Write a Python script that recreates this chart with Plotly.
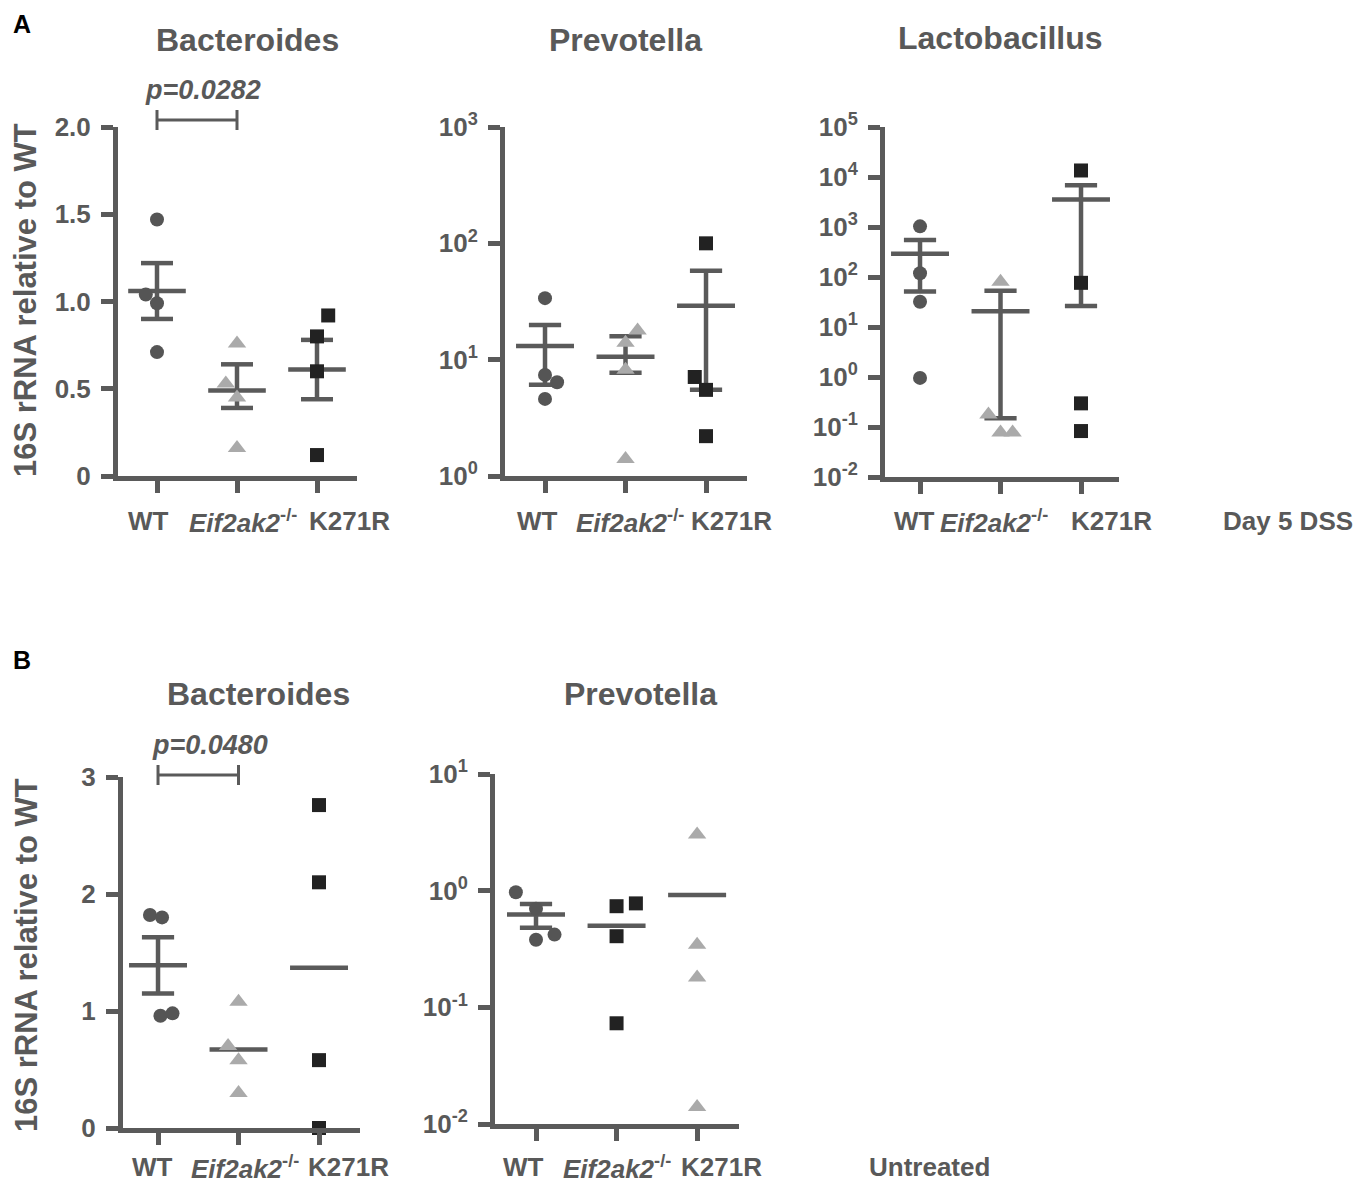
import plotly.graph_objects as go

# page body has an 8px margin: the figure is sized to the visible window
OFF = 8
W, H = 1363 - OFF, 1184 - OFF
FONT = "Liberation Sans, Arial, sans-serif"
AX = "#5a5a5a"
TXT = "#595959"

# ---------------- data ----------------
groups = ["WT", "Eif2ak2-/-", "K271R"]
group_labels = ["<b>WT</b>", "<b><i>Eif2ak2</i><sup>-/-</sup></b>", "<b>K271R</b>"]

# Panel A (Day 5 DSS) - Bacteroides, linear
a_bact_wt = [1.47, 1.04, 0.99, 0.71]
a_bact_eif = [0.76, 0.53, 0.45, 0.16]
a_bact_k271r = [0.92, 0.80, 0.60, 0.12]
a_bact_mean = [1.06, 0.49, 0.61]
a_bact_sem_low = [0.90, 0.39, 0.44]
a_bact_sem_high = [1.22, 0.64, 0.78]

# Panel A - Prevotella, log
a_prev_wt = [33.8, 7.4, 6.4, 4.6]
a_prev_eif = [17.8, 14.0, 8.2, 1.4]
a_prev_k271r = [100, 7.1, 5.5, 2.2]
a_prev_mean = [13.1, 10.6, 29.0]
a_prev_sem_low = [6.1, 7.7, 5.5]
a_prev_sem_high = [19.9, 15.9, 58.0]

# Panel A - Lactobacillus, log
a_lact_wt = [1030, 119, 32, 0.96]
a_lact_eif = [80, 0.177, 0.078, 0.078]
a_lact_k271r = [13500, 76.5, 0.297, 0.083]
a_lact_mean = [292, 20.6, 3530]
a_lact_sem_low = [51.5, 0.15, 26.2]
a_lact_sem_high = [550, 53, 6850]

# Panel B (Untreated) - Bacteroides, linear
b_bact_wt = [1.82, 1.80, 0.96, 0.98]
b_bact_eif = [1.08, 0.70, 0.58, 0.30]
b_bact_k271r = [2.76, 2.10, 0.58, 0.0]
b_bact_mean = [1.39, 0.67, 1.37]
b_bact_sem_low = [1.15, None, None]
b_bact_sem_high = [1.63, None, None]

# Panel B - Prevotella, log
b_prev_wt = [0.97, 0.70, 0.38, 0.42]
b_prev_eif = [0.736, 0.778, 0.407, 0.073]
b_prev_k271r = [3.03, 0.344, 0.18, 0.014]
b_prev_mean = [0.625, 0.50, 0.92]
b_prev_sem_low = [0.482, None, None]
b_prev_sem_high = [0.767, None, None]

# horizontal scatter of overlapping points (category units)
a_bact_dx = [[0, -0.14, 0, 0], [0, -0.14, 0, 0], [0.14, 0, 0, 0]]
a_prev_dx = [[0, 0, 0.15, 0], [0.15, 0, 0, 0], [0, -0.14, 0, 0]]
a_lact_dx = [[0, 0, 0, 0], [0, -0.15, 0, 0.15], [0, 0, 0, 0]]
b_bact_dx = [[-0.10, 0.05, 0.03, 0.18], [0, -0.13, 0, 0], [0, 0, 0, 0]]
b_prev_dx = [[-0.25, 0, 0, 0.23], [0, 0.24, 0, 0], [0, 0, 0, 0]]

lin_a_ticks = [0, 0.5, 1.0, 1.5, 2.0]
lin_a_text = ["0", "0.5", "1.0", "1.5", "2.0"]
lin_b_ticks = [0, 1, 2, 3]
lin_b_text = ["0", "1", "2", "3"]

# ---------------- styles ----------------
m_std = [("circle", "#555555", 14), ("triangle-up", "#aaaaaa", 16), ("square", "#222222", 14)]
m_bprev = [("circle", "#555555", 14), ("square", "#222222", 14), ("triangle-up", "#aaaaaa", 16)]


def logticks(lo, hi):
    vals = [10 ** e for e in range(lo, hi + 1)]
    txt = ["<b>10<sup>%d</sup></b>" % e for e in range(lo, hi + 1)]
    return vals, txt


panels = [
    dict(title="Bacteroides", tx=248, ty=40,
         data=[a_bact_wt, a_bact_eif, a_bact_k271r], dx=a_bact_dx,
         mean=a_bact_mean, lo=a_bact_sem_low, hi=a_bact_sem_high,
         xpx=(118, 357), ypx=(127, 476), xr=[-0.4875, 2.5], type="linear", yr=[0, 2],
         tv=lin_a_ticks, tt=["<b>%s</b>" % t for t in lin_a_text], mk=m_std,
         lab_y=521, lab_dx=[-9, 6, 32]),
    dict(title="Prevotella", tx=625, ty=40,
         data=[a_prev_wt, a_prev_eif, a_prev_k271r], dx=a_prev_dx,
         mean=a_prev_mean, lo=a_prev_sem_low, hi=a_prev_sem_high,
         xpx=(505, 747), ypx=(127, 476), xr=[-0.497, 2.509], type="log", yr=[0, 3],
         tick=(0, 3), mk=m_std, lab_y=521, lab_dx=[-8, 4, 25]),
    dict(title="Lactobacillus", tx=1000, ty=38,
         data=[a_lact_wt, a_lact_eif, a_lact_k271r], dx=a_lact_dx,
         mean=a_lact_mean, lo=a_lact_sem_low, hi=a_lact_sem_high,
         xpx=(885, 1119), ypx=(127, 477), xr=[-0.435, 2.472], type="log", yr=[-2, 5],
         tick=(-2, 5), mk=m_std, lab_y=521, lab_dx=[-6, -7, 30]),
    dict(title="Bacteroides", tx=259, ty=694,
         data=[b_bact_wt, b_bact_eif, b_bact_k271r], dx=b_bact_dx,
         mean=b_bact_mean, lo=b_bact_sem_low, hi=b_bact_sem_high,
         xpx=(123, 360), ypx=(777, 1128), xr=[-0.435, 2.509], type="linear", yr=[0, 3],
         tv=lin_b_ticks, tt=["<b>%s</b>" % t for t in lin_b_text], mk=m_std,
         lab_y=1167, lab_dx=[-6, 6, 29]),
    dict(title="Prevotella", tx=640, ty=694,
         data=[b_prev_wt, b_prev_eif, b_prev_k271r], dx=b_prev_dx,
         mean=b_prev_mean, lo=b_prev_sem_low, hi=b_prev_sem_high,
         xpx=(495, 739), ypx=(774, 1124), xr=[-0.509, 2.52], type="log", yr=[-2, 1],
         tick=(-2, 1), mk=m_bprev, lab_y=1167, lab_dx=[-13, 0, 24]),
]

MEAN_HW = 0.36
CAP_HW = 0.20
LW = 4.5


def px_x(p):
    return (p - OFF) / W


def px_y(p):
    return 1 - (p - OFF) / H


fig = go.Figure()
annotations = []
shapes = []

for k, p in enumerate(panels, start=1):
    sfx = "" if k == 1 else str(k)
    xa, ya = "x" + sfx, "y" + sfx

    # mean lines + SEM bars
    xs, ys = [], []
    for i, m in enumerate(p["mean"]):
        xs += [i - MEAN_HW, i + MEAN_HW, None]
        ys += [m, m, None]
        lo, hi = p["lo"][i], p["hi"][i]
        if lo is not None and hi is not None:
            xs += [i, i, None, i - CAP_HW, i + CAP_HW, None, i - CAP_HW, i + CAP_HW, None]
            ys += [lo, hi, None, lo, lo, None, hi, hi, None]
    fig.add_trace(go.Scatter(x=xs, y=ys, mode="lines", xaxis=xa, yaxis=ya,
                             line=dict(color=AX, width=LW), showlegend=False,
                             hoverinfo="skip"))

    # points
    for i, vals in enumerate(p["data"]):
        sym, col, sz = p["mk"][i]
        fig.add_trace(go.Scatter(
            x=[i + d for d in p["dx"][i]], y=vals, mode="markers",
            xaxis=xa, yaxis=ya, cliponaxis=False, showlegend=False,
            name=groups[i],
            marker=dict(symbol=sym, color=col, size=sz, line=dict(width=0))))

    if p["type"] == "log":
        tv, tt = logticks(*p["tick"])
    else:
        tv, tt = p["tv"], p["tt"]

    fig.update_layout(**{
        "xaxis" + sfx: dict(
            domain=[px_x(p["xpx"][0]), px_x(p["xpx"][1])], range=p["xr"],
            anchor=ya, tickvals=[0, 1, 2], showticklabels=False,
            ticks="outside", ticklen=12, tickwidth=4.5, tickcolor=AX,
            showline=True, linewidth=5, linecolor=AX, showgrid=False,
            zeroline=False, fixedrange=True, automargin=False),
        "yaxis" + sfx: dict(
            domain=[px_y(p["ypx"][1]), px_y(p["ypx"][0])], range=p["yr"],
            type=p["type"], anchor=xa, tickvals=tv, ticktext=tt,
            ticks="outside", ticklen=12, tickwidth=4.5, tickcolor=AX,
            tickfont=dict(family=FONT, size=26, color=TXT),
            ticklabelstandoff=5,
            showline=True, linewidth=5, linecolor=AX, showgrid=False,
            zeroline=False, fixedrange=True, automargin=False),
    })

    # title
    annotations.append(dict(text="<b>%s</b>" % p["title"], x=px_x(p["tx"]), y=px_y(p["ty"]),
                            xref="paper", yref="paper", xanchor="center", yanchor="middle",
                            showarrow=False, font=dict(family=FONT, size=32, color=TXT)))
    # category labels
    for i, lab in enumerate(group_labels):
        annotations.append(dict(text=lab, x=i, xref=xa, xshift=p["lab_dx"][i],
                                y=px_y(p["lab_y"]), yref="paper",
                                xanchor="center", yanchor="middle", showarrow=False,
                                font=dict(family=FONT, size=26, color=TXT)))

# significance brackets (panel A and B Bacteroides)
sig = [("x", "p=0.0282", 120, 90, 6), ("x4", "p=0.0480", 775, 745, 12)]
for xa, txt, by, ty, tshift in sig:
    shapes.append(dict(type="line", xref=xa, yref="paper", x0=0, x1=1,
                       y0=px_y(by), y1=px_y(by), line=dict(color=AX, width=3)))
    for xv in (0, 1):
        shapes.append(dict(type="line", xref=xa, yref="paper", x0=xv, x1=xv,
                           y0=px_y(by - 10), y1=px_y(by + 10), line=dict(color=AX, width=3)))
    annotations.append(dict(text="<b><i>%s</i></b>" % txt, x=0.5, xref=xa, xshift=tshift,
                            y=px_y(ty), yref="paper", xanchor="center", yanchor="middle",
                            showarrow=False, font=dict(family=FONT, size=27, color=TXT)))

# y-axis titles
for cy in (300, 955):
    annotations.append(dict(text="<b>16S rRNA relative to WT</b>", x=px_x(26), y=px_y(cy),
                            xref="paper", yref="paper", xanchor="center", yanchor="middle",
                            textangle=-90, showarrow=False,
                            font=dict(family=FONT, size=31, color=TXT)))

# panel letters (near the page edge)
annotations.append(dict(text="<b>A</b>", x=px_x(11), y=1.0,
                        xref="paper", yref="paper", xanchor="left", yanchor="top",
                        showarrow=False, font=dict(family=FONT, size=25, color="#000000")))
annotations.append(dict(text="<b>B</b>", x=px_x(11), y=px_y(660),
                        xref="paper", yref="paper", xanchor="left", yanchor="middle",
                        showarrow=False, font=dict(family=FONT, size=25, color="#000000")))

# condition labels
for txt, cx, cy in [("Day 5 DSS", 1288, 521), ("Untreated", 929, 1167)]:
    annotations.append(dict(text="<b>%s</b>" % txt, x=px_x(cx), y=px_y(cy),
                            xref="paper", yref="paper", xanchor="center", yanchor="middle",
                            showarrow=False, font=dict(family=FONT, size=26, color=TXT)))

fig.update_layout(width=W, height=H,
                  margin=dict(l=0, r=0, t=0, b=0, pad=0, autoexpand=False),
                  paper_bgcolor="white", plot_bgcolor="white",
                  annotations=annotations, shapes=shapes, showlegend=False)

fig.write_html("out.html", config={"displayModeBar": False})
